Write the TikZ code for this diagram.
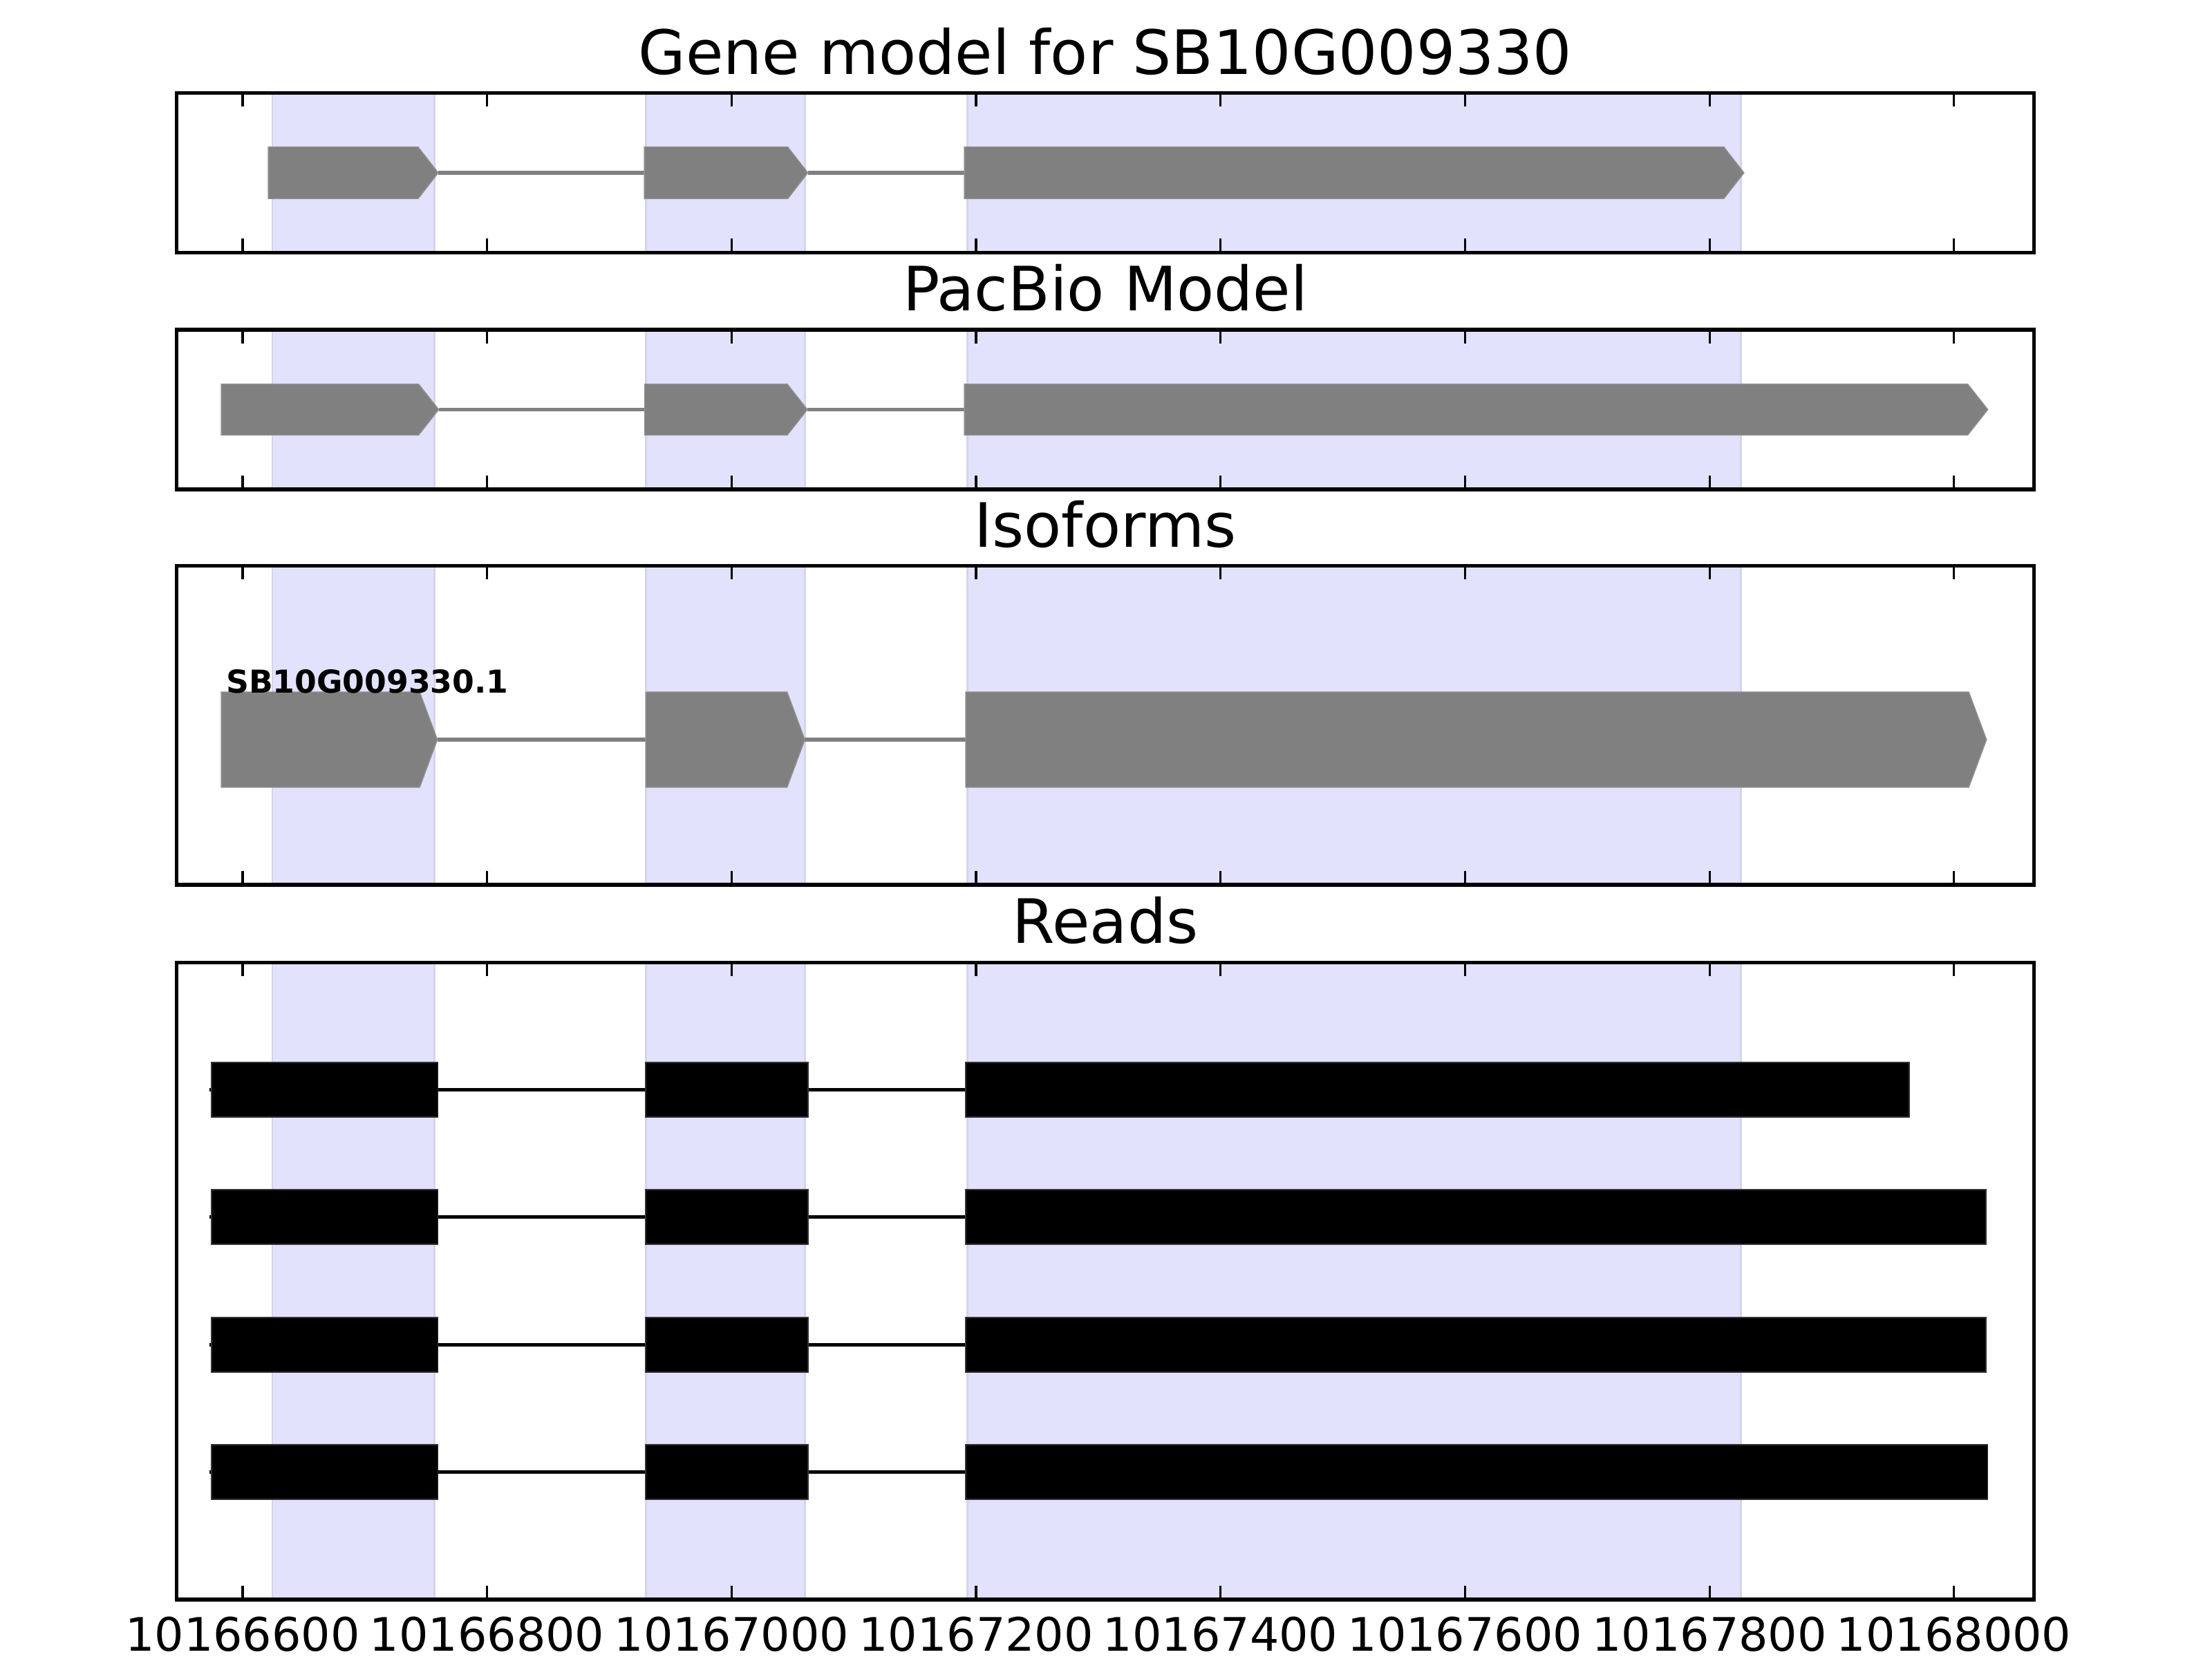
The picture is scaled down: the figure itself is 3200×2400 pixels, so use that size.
\documentclass[tikz,border=0pt]{standalone}
\usepackage{fontspec}
\setmainfont{DejaVu Sans}
\usepackage{xcolor}
\usepackage{tikz}
\definecolor{shade}{RGB}{226,226,253}
\definecolor{shadeedge}{RGB}{212,212,236}
\definecolor{exongray}{RGB}{128,128,128}
\tikzset{
  frame/.style={line width=0.75pt, line join=miter},
  tick/.style={line width=0.45pt},
  span/.style={fill=shade},
  spanedge/.style={draw=shadeedge, line width=0.4pt},
  exon/.style={fill=exongray, draw=exongray!85!white, line width=0.2pt},
  intron/.style={draw=exongray, line width=0.75pt},
  readexon/.style={fill=black, draw=black!80, line width=0.25pt},
  readline/.style={draw=black, line width=0.7pt},
  paneltitle/.style={font=\fontsize{12.6}{15}\selectfont, anchor=base, inner sep=0pt},
  ticklabel/.style={font=\fontsize{9.5}{11}\selectfont, anchor=base, inner sep=0pt},
  isolabel/.style={font=\fontsize{6.5}{8}\selectfont\bfseries, anchor=base west, inner sep=0pt}
}
\newcommand{\genearrow}[5]{%
  \filldraw[exon] (#1,#3-#4) -- (#2-#5,#3-#4) -- (#2,#3) -- (#2-#5,#3+#4) -- (#1,#3+#4) -- cycle;}

\begin{document}
\begin{tikzpicture}[x=0.005cm, y=-0.005cm]
  \useasboundingbox (0,0) rectangle (3200,2400);
  \begin{scope}[x=0.0088465cm, xshift=-3.553cm]
    \foreach \ptop/\pbot in {134.5/365.5, 477/708, 818.3/1280, 1392.3/2314} {
      \foreach \s/\e in {624.3/756.8, 929.8/1059.9, 1192.7/1825.7} {
        \fill[span] (\s,\ptop) rectangle (\e,\pbot);
        \draw[spanedge] (\s,\ptop) -- (\s,\pbot) (\e,\ptop) -- (\e,\pbot);
      }
    }

    \draw[intron] (760,250) -- (928.6,250);
    \draw[intron] (1062.4,250) -- (1190.4,250);
    \genearrow{621}{760}{250}{37.5}{16.5}
    \genearrow{928.6}{1062.4}{250}{37.5}{16.5}
    \genearrow{1190.4}{1828.2}{250}{37.5}{16.5}

    \draw[intron] (760.4,592.5) -- (928.8,592.5);
    \draw[intron] (1062,592.5) -- (1190.4,592.5);
    \genearrow{582.5}{760.4}{592.5}{37}{16.5}
    \genearrow{928.8}{1062}{592.5}{37}{16.5}
    \genearrow{1190.4}{2027.7}{592.5}{37}{16.5}

    \draw[intron] (759.3,1070) -- (929.9,1070);
    \draw[intron] (1059.9,1070) -- (1191.5,1070);
    \genearrow{582.5}{759.3}{1070}{69}{14.5}
    \genearrow{929.9}{1059.9}{1070}{69}{14.5}
    \genearrow{1191.5}{2026.6}{1070}{69}{14.5}
    \node[isolabel] (iso1) at (585.7,1002) {SB10G009330.1};

    \foreach \y/\e in {1576.4/1963.2, 1760.8/2026.3, 1945.2/2026.3, 2129.6/2027.5} {
      \draw[readline] (572.8,\y) -- (\e,\y);
      \filldraw[readexon] (574.6,\y-39.5) rectangle (759.7,\y+39.5);
      \filldraw[readexon] (929.8,\y-39.5) rectangle (1062.4,\y+39.5);
      \filldraw[readexon] (1191.5,\y-39.5) rectangle (\e,\y+39.5);
    }

    \foreach \ptop/\pbot in {134.5/365.5, 477/708, 818.3/1280, 1392.3/2314} {
      \foreach \t in {600,800,...,2000} {
        \draw[tick] (\t,\ptop) -- ++(0,20);
        \draw[tick] (\t,\pbot) -- ++(0,-20);
      }
      \draw[frame] (545.8,\ptop) rectangle (2065.6,\pbot);
    }

    \node[paneltitle] (title1) at (1305.7,107.5) {Gene model for SB10G009330};
    \node[paneltitle] (title2) at (1305.7,450) {PacBio Model};
    \node[paneltitle] (title3) at (1305.7,791) {Isoforms};
    \node[paneltitle] (title4) at (1305.7,1364) {Reads};

    \foreach \t/\lab in {600/10166600, 800/10166800, 1000/10167000, 1200/10167200, 1400/10167400, 1600/10167600, 1800/10167800, 2000/10168000}
      \node[ticklabel] (lab\t) at (\t,2388) {\lab};
  \end{scope}
\end{tikzpicture}
\end{document}
